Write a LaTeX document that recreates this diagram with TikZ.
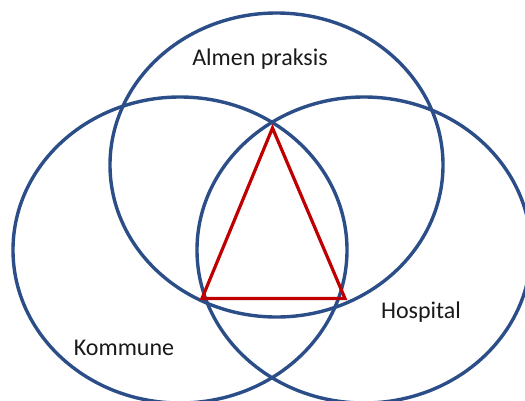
\documentclass[tikz,border=0pt]{standalone}
\usepackage{fontspec}
\setmainfont{Carlito}
\definecolor{ringblue}{RGB}{44,78,136}
\definecolor{trired}{RGB}{192,0,0}
\begin{document}
\begin{tikzpicture}[x=1pt,y=-1pt,
  ring/.style={draw=ringblue,line width=3.4pt},
  tri/.style={draw=trired,line width=3.2pt,line join=miter},
  lbl/.style={font=\fontsize{24}{28}\selectfont,text=black!90,inner sep=0pt}]
\useasboundingbox (0,0) rectangle (525,400);
\begin{scope}
\clip (0,0) rectangle (525,400);
\draw[ring] (276.5,165) ellipse [x radius=166.5,y radius=152];
\draw[ring] (180,250) ellipse [x radius=167,y radius=153];
\draw[ring] (364,250) ellipse [x radius=167,y radius=153];
\end{scope}
\coordinate (apex) at (272.5,128);
\coordinate (bl) at (202,298.5);
\coordinate (br) at (345,298.5);
\draw[tri] (apex) -- (bl) -- (br) -- cycle;
\node[lbl] (almen) at (260,59) {Almen praksis};
\node[lbl] (hosp) at (421,312) {Hospital};
\node[lbl] (komm) at (124,348) {Kommune};
\end{tikzpicture}
\end{document}
